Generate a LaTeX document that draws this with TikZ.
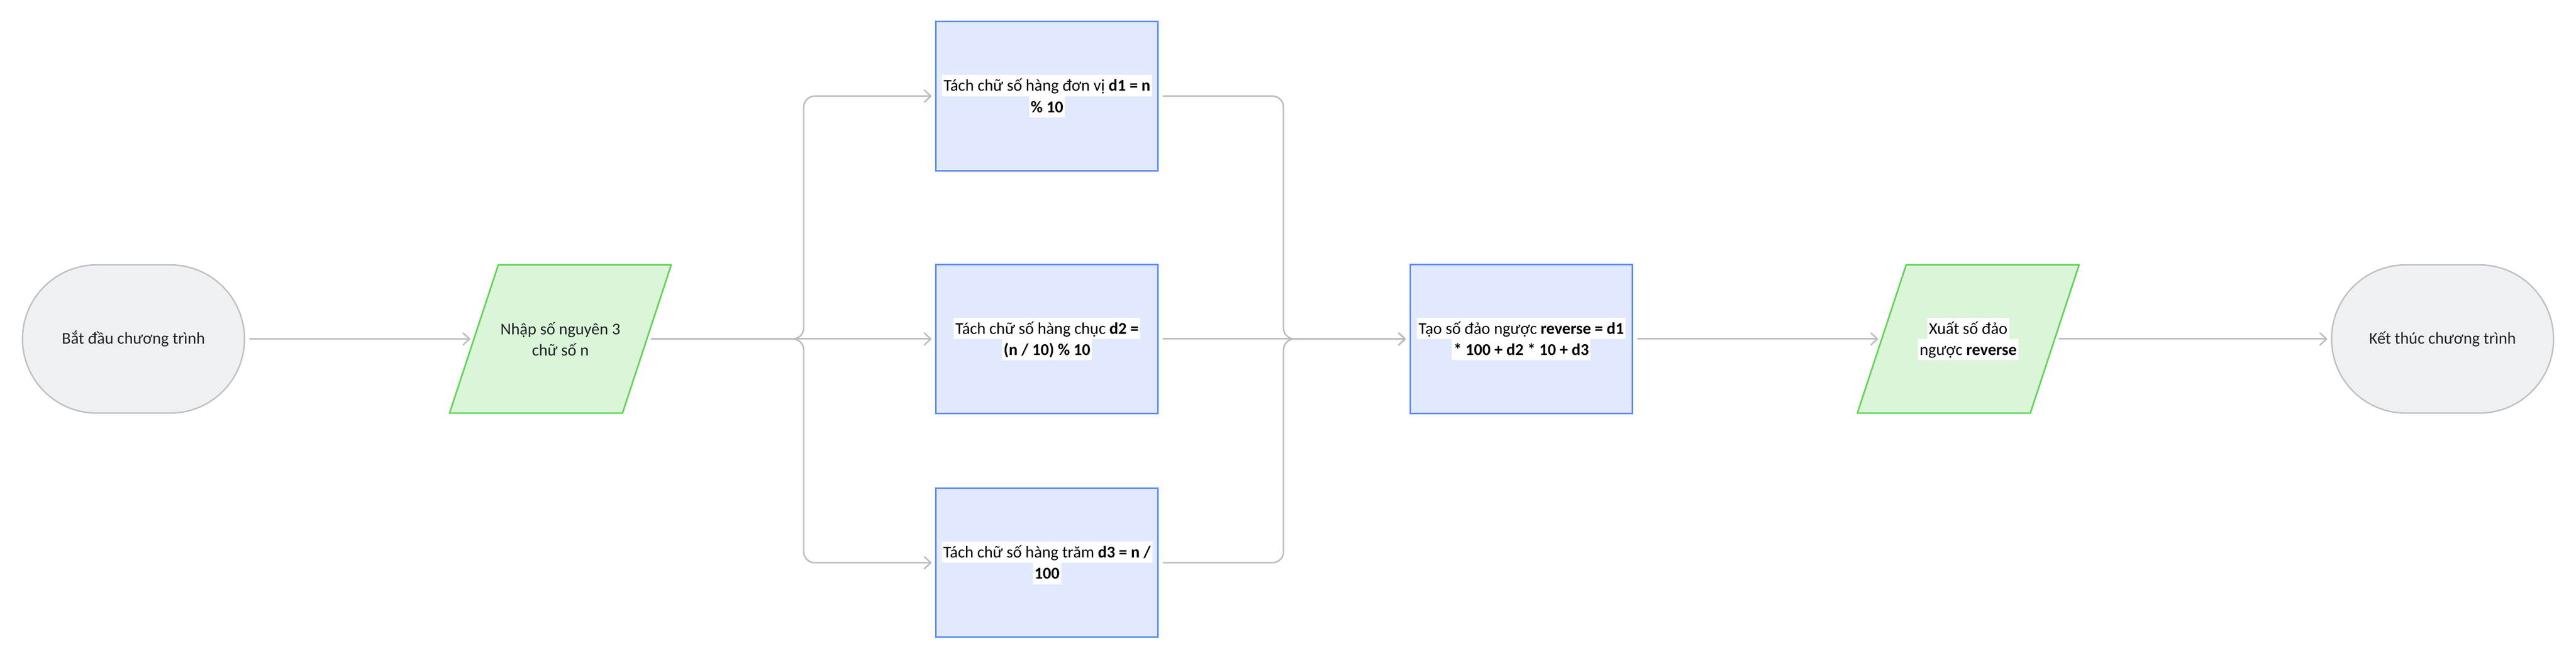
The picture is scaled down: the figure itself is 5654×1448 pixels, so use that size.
\documentclass[tikz,border=0pt]{standalone}
\usepackage{fontspec}
\setmainfont{Carlito}
\usetikzlibrary{shapes.misc,arrows.meta,backgrounds}

\definecolor{termfill}{HTML}{EFF0F2}
\definecolor{termline}{HTML}{BCBFC4}
\definecolor{iofill}{HTML}{DAF5D7}
\definecolor{ioline}{HTML}{63D45B}
\definecolor{procfill}{HTML}{E1E9FE}
\definecolor{procline}{HTML}{5A8CF7}
\definecolor{linkgray}{HTML}{BBBDC2}
\definecolor{inkdark}{HTML}{1F2329}

% white band behind each line of text
\newcommand{\hl}[1]{{\setlength{\fboxsep}{0pt}\colorbox{white}{\rule[-3.1pt]{0pt}{13.3pt}\kern1pt#1\kern1pt}}}

\begin{document}
\begin{tikzpicture}[x=0.01cm,y=-0.01cm,
  font=\fontsize{10.3pt}{13.3pt}\selectfont,
  term/.style={rounded rectangle,draw=termline,fill=termfill,line width=0.03cm,
    minimum width=4.87cm,minimum height=3.25cm,inner sep=0pt,text=inkdark,align=center},
  io/.style={rectangle,minimum width=3.78cm,minimum height=3.24cm,inner sep=0pt,align=center},
  iobox/.style={draw=ioline,fill=iofill,line width=0.035cm,line join=round},
  proc/.style={rectangle,draw=procline,fill=procfill,line width=0.035cm,
    minimum width=4.87cm,minimum height=3.27cm,inner sep=0pt,align=center},
  link/.style={draw=linkgray,line width=0.033cm,rounded corners=0.24cm,
    -{Straight Barb[length=0.14cm,width=0.26cm,round]},
    shorten <=0.09cm,shorten >=0.08cm}]
\useasboundingbox (0,0) rectangle (5654,1448);

\node[term] (start) at (293,744) {Bắt đầu chương trình};
\node[io,text=inkdark] (in) at (1230,744) {Nhập số nguyên 3\\chữ số n};

\node[proc] (d1) at (2298,211) {\hl{Tách chữ số hàng đơn vị \textbf{d1 = n}}\\\hl{\textbf{\% 10}}};
\node[proc] (d2) at (2298,744) {\hl{Tách chữ số hàng chục \textbf{d2 =}}\\\hl{\textbf{(n / 10) \% 10}}};
\node[proc] (d3) at (2298,1235) {\hl{Tách chữ số hàng trăm \textbf{d3 = n /}}\\\hl{\textbf{100}}};

\node[proc] (rev) at (3339,744) {\hl{Tạo số đảo ngược \textbf{reverse = d1}}\\\hl{\textbf{* 100 + d2 * 10 + d3}}};
\node[io] (out) at (4320,744) {\hl{Xuất số đảo}\\\hl{ngược \textbf{reverse}}};
\node[term] (end) at (5361,744) {Kết thúc chương trình};

% slanted input / output boxes
\begin{scope}[on background layer]
\foreach \p in {in,out}
  \draw[iobox] ([xshift=-0.535cm]\p.south west) -- ([xshift=0.535cm]\p.north west)
    -- ([xshift=0.535cm]\p.north east) -- ([xshift=-0.535cm]\p.south east) -- cycle;
\end{scope}

\coordinate (split) at (1764,744);
\coordinate (join) at (2817,744);

\draw[link] (start) -- (in);
\draw[link] (in.east) -- (split) |- (d1.west);
\draw[link] (in.east) -- (d2.west);
\draw[link] (in.east) -- (split) |- (d3.west);
\draw[link] (d1.east) -| (join) -- (rev.west);
\draw[link] (d2.east) -- (rev.west);
\draw[link] (d3.east) -| (join) -- (rev.west);
\draw[link] (rev) -- (out);
\draw[link] (out.east) -- (end);
\end{tikzpicture}
\end{document}
